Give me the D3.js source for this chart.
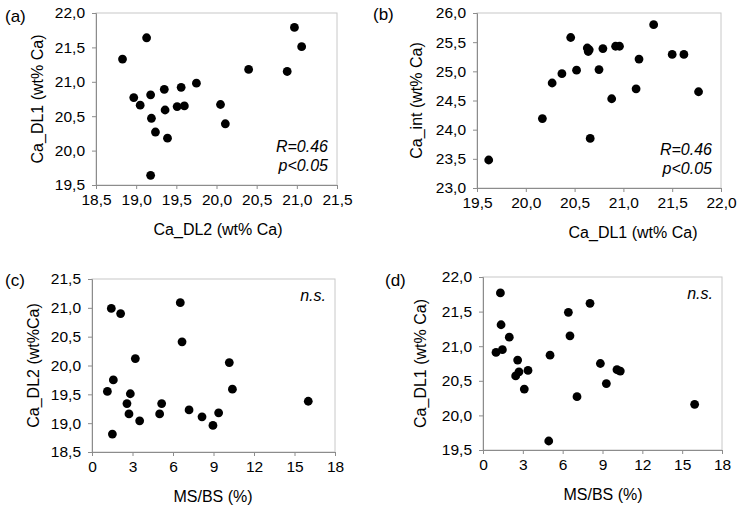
<!DOCTYPE html>
<html><head><meta charset="utf-8">
<script src="https://cdn.jsdelivr.net/npm/d3@7/dist/d3.min.js"></script>
<style>
html,body{margin:0;padding:0;background:#fff;}
svg{display:block;font-family:"Liberation Sans",Arial,sans-serif;}
</style></head>
<body>
<svg id="chart" width="740" height="510"></svg>
<script>
// ---- Data ----
// Panel (a): Ca_DL2 (x) vs Ca_DL1 (y)
const aX = [18.83,19.13,18.97,19.05,19.18,19.35,19.56,19.75,19.19,19.36,19.51,19.60,19.24,19.39,19.18,20.05,20.11,20.40,20.88,20.97,21.06];
const aY = [21.33,21.64,20.77,20.66,20.81,20.89,20.92,20.98,20.47,20.59,20.64,20.65,20.27,20.18,19.64,20.67,20.39,21.18,21.15,21.79,21.51];
// Panel (b): Ca_DL1 (x) vs Ca_int (y)
const bX = [19.62,20.17,20.27,20.37,20.46,20.52,20.63,20.64,20.65,20.66,20.75,20.79,20.88,20.92,20.96,21.13,21.16,21.31,21.50,21.62,21.77];
const bY = [23.48,24.19,24.80,24.96,25.58,25.02,25.40,25.34,25.37,23.85,25.03,25.39,24.53,25.43,25.43,24.70,25.21,25.80,25.29,25.29,24.65];
// Panel (c): MS/BS (x) vs Ca_DL2 (y)
const cX = [1.43,2.12,6.54,6.67,3.21,1.58,1.14,2.84,2.59,2.74,3.53,1.51,5.01,5.16,7.19,8.15,8.96,9.38,10.17,10.40,16.02];
const cY = [20.99,20.90,21.09,20.41,20.12,19.75,19.55,19.51,19.34,19.16,19.04,18.81,19.16,19.34,19.23,19.11,18.96,19.18,20.05,19.59,19.38];
// Panel (d): MS/BS (x) vs Ca_DL1 (y)
const dX = [1.31,1.36,1.98,0.98,1.46,2.61,2.46,2.71,3.39,3.11,5.05,4.95,6.43,6.55,8.06,7.08,8.84,9.29,10.09,10.34,15.94];
const dY = [21.77,21.31,21.13,20.91,20.95,20.80,20.57,20.63,20.65,20.38,20.87,19.63,21.49,21.15,21.62,20.27,20.75,20.46,20.66,20.64,20.16];

// Tick values
const aXTicks = [18.5,19.0,19.5,20.0,20.5,21.0,21.5];
const aYTicks = [19.5,20.0,20.5,21.0,21.5,22.0];
const bXTicks = [19.5,20.0,20.5,21.0,21.5,22.0];
const bYTicks = [23.0,23.5,24.0,24.5,25.0,25.5,26.0];
const msTicks = [0,3,6,9,12,15,18];
const cYTicks = [18.5,19.0,19.5,20.0,20.5,21.0,21.5];
const dYTicks = [19.5,20.0,20.5,21.0,21.5,22.0];

// Texts
const panelLabels = ["(a)","(b)","(c)","(d)"];
const xTitles = ["Ca_DL2 (wt% Ca)","Ca_DL1 (wt% Ca)","MS/BS (%)","MS/BS (%)"];
const yTitles = ["Ca_DL1 (wt% Ca)","Ca_int (wt% Ca)","Ca_DL2 (wt%Ca)","Ca_DL1 (wt% Ca)"];
const statTexts = [["R=0.46","p<0.05"],["R=0.46","p<0.05"],["n.s."],["n.s."]];

const comma1 = v => d3.format(".1f")(v).replace(".", ",");
const intFmt = v => d3.format("d")(v);

const svg = d3.select("#chart");

const panels = [
  {x:aX, y:aY, xt:aXTicks, yt:aYTicks, xf:comma1, yf:comma1, box:[96,337,13,185], lab:[5,22], xtc:218, ytc:37},
  {x:bX, y:bY, xt:bXTicks, yt:bYTicks, xf:comma1, yf:comma1, box:[477,721,13,188], lab:[373,20], xtc:633, ytc:416},
  {x:cX, y:cY, xt:msTicks, yt:cYTicks, xf:intFmt, yf:comma1, box:[92,335,279,452], lab:[5,286], xtc:213, ytc:33},
  {x:dX, y:dY, xt:msTicks, yt:dYTicks, xf:intFmt, yf:comma1, box:[483,722,277,450], lab:[385,286], xtc:603, ytc:420}
];

panels.forEach((p,i) => {
  const [x0,x1,y0,y1] = p.box;
  const xs = d3.scaleLinear().domain([p.xt[0], p.xt[p.xt.length-1]]).range([x0,x1]);
  const ys = d3.scaleLinear().domain([p.yt[0], p.yt[p.yt.length-1]]).range([y1,y0]);
  const g = svg.append("g");

  // plot frame (top/right light)
  g.append("rect").attr("x",x0).attr("y",y0).attr("width",x1-x0).attr("height",y1-y0)
    .attr("fill","none").attr("stroke","#c8c8c8").attr("stroke-width",1);

  const xAxis = d3.axisBottom(xs).tickValues(p.xt).tickFormat(p.xf).tickSize(4).tickPadding(5);
  const yAxis = d3.axisLeft(ys).tickValues(p.yt).tickFormat(p.yf).tickSize(4).tickPadding(7);

  const gx = g.append("g").attr("transform",`translate(0,${y1})`).call(xAxis);
  const gy = g.append("g").attr("transform",`translate(${x0},0)`).call(yAxis);
  [gx,gy].forEach(a => {
    a.select(".domain").attr("stroke","#8c8c8c");
    a.selectAll(".tick line").attr("stroke","#8c8c8c");
    a.selectAll(".tick text").attr("fill","#000").style("font-size","15.5px")
      .style("font-family","'Liberation Sans',Arial,sans-serif");
  });

  // points
  g.selectAll("circle.pt").data(p.x.map((v,k)=>[v,p.y[k]])).enter().append("circle")
    .attr("class","pt").attr("cx",d=>xs(d[0])).attr("cy",d=>ys(d[1])).attr("r",4.4).attr("fill","#000");

  // panel label
  svg.append("text").attr("x",p.lab[0]).attr("y",p.lab[1]).text(panelLabels[i])
    .style("font-size","17px").attr("fill","#000");

  // axis titles
  svg.append("text").attr("x",p.xtc).attr("y",y1+50).attr("text-anchor","middle")
    .style("font-size","16px").text(xTitles[i]);
  svg.append("text").attr("transform",`translate(${p.ytc},${(y0+y1)/2}) rotate(-90)`)
    .attr("text-anchor","middle").attr("dy","0.35em").style("font-size","16px").text(yTitles[i]);

  // stats text
  const st = statTexts[i];
  st.forEach((t,k) => {
    svg.append("text").attr("x",x1-9).attr("y", st.length===2 ? y1-33+k*19 : y0+22)
      .attr("text-anchor","end").style("font-size","16px").style("font-style","italic").text(t);
  });
});
</script>
</body></html>
